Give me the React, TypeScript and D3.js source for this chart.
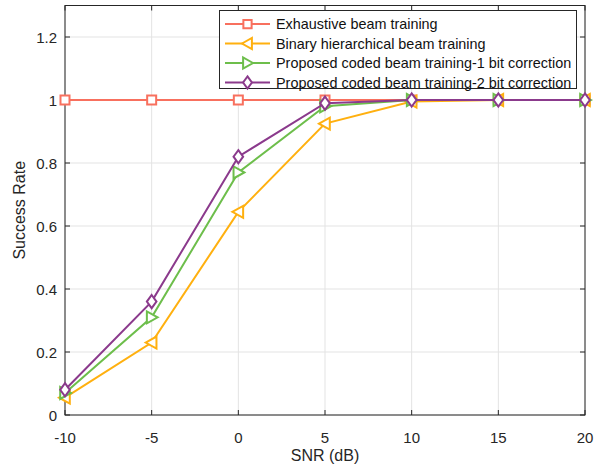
import React, { useEffect, useRef } from 'react';
import * as d3 from 'd3';

const snr = [-10, -5, 0, 5, 10, 15, 20];
const exhaustive = [1, 1, 1, 1, 1, 1, 1];
const binary = [0.055, 0.23, 0.645, 0.925, 0.995, 1, 1];
const coded1 = [0.07, 0.31, 0.77, 0.98, 1, 1, 1];
const coded2 = [0.08, 0.36, 0.82, 0.99, 1, 1, 1];
const xTicks = [-10, -5, 0, 5, 10, 15, 20];
const yTicks = [0, 0.2, 0.4, 0.6, 0.8, 1, 1.2];

const series = [
  { name: 'Exhaustive beam training', values: exhaustive, color: '#F8705E', marker: 'square' },
  { name: 'Binary hierarchical beam training', values: binary, color: '#FFB00F', marker: 'left' },
  { name: 'Proposed coded beam training-1 bit correction', values: coded1, color: '#6DBE4B', marker: 'right' },
  { name: 'Proposed coded beam training-2 bit correction', values: coded2, color: '#8B3A8C', marker: 'diamond' },
];

const markerPath = (type: string, s: number) => {
  if (type === 'square') return `M${-s * 0.75},${-s * 0.75}h${s * 1.5}v${s * 1.5}h${-s * 1.5}Z`;
  if (type === 'left') return `M${-s},0L${s * 0.8},${-s}L${s * 0.8},${s}Z`;
  if (type === 'right') return `M${s},0L${-s * 0.8},${-s}L${-s * 0.8},${s}Z`;
  return `M0,${-s * 1.1}L${s * 0.8},0L0,${s * 1.1}L${-s * 0.8},0Z`;
};

const App = () => {
  const ref = useRef<SVGSVGElement>(null);

  useEffect(() => {
    const svg = d3.select(ref.current);
    svg.selectAll('*').remove();
    const m = { left: 65, right: 585, top: 5.5, bottom: 415 };
    const x = d3.scaleLinear().domain([-10, 20]).range([m.left, m.right]);
    const y = d3.scaleLinear().domain([0, 1.3]).range([m.bottom, m.top]);
    const font = 'Liberation Sans, Arial, sans-serif';
    const txt = '#262626';

    svg.append('rect').attr('width', 600).attr('height', 465).attr('fill', 'white');

    const grid = svg.append('g').attr('stroke', '#e3e3e3').attr('stroke-width', 1);
    xTicks.forEach(t => grid.append('line').attr('x1', x(t)).attr('x2', x(t)).attr('y1', m.top).attr('y2', m.bottom));
    yTicks.forEach(t => grid.append('line').attr('x1', m.left).attr('x2', m.right).attr('y1', y(t)).attr('y2', y(t)));

    const ax = svg.append('g').attr('stroke', txt).attr('stroke-width', 1);
    ax.append('rect').attr('x', m.left).attr('y', m.top).attr('width', m.right - m.left).attr('height', m.bottom - m.top).attr('fill', 'none');
    xTicks.forEach(t => {
      ax.append('line').attr('x1', x(t)).attr('x2', x(t)).attr('y1', m.bottom).attr('y2', m.bottom - 5);
      ax.append('line').attr('x1', x(t)).attr('x2', x(t)).attr('y1', m.top).attr('y2', m.top + 5);
    });
    yTicks.forEach(t => {
      ax.append('line').attr('x1', m.left).attr('x2', m.left + 5).attr('y1', y(t)).attr('y2', y(t));
      ax.append('line').attr('x1', m.right).attr('x2', m.right - 5).attr('y1', y(t)).attr('y2', y(t));
    });

    svg.append('g').selectAll('text').data(xTicks).join('text')
      .attr('x', d => x(d)).attr('y', m.bottom + 28).attr('text-anchor', 'middle')
      .attr('font-family', font).attr('font-size', 15).attr('fill', txt).text(d => String(d));
    svg.append('g').selectAll('text').data(yTicks).join('text')
      .attr('x', m.left - 8).attr('y', d => y(d) + 5.5).attr('text-anchor', 'end')
      .attr('font-family', font).attr('font-size', 15).attr('fill', txt).text(d => String(d));

    svg.append('text').attr('x', (m.left + m.right) / 2).attr('y', 461).attr('text-anchor', 'middle')
      .attr('font-family', font).attr('font-size', 16).attr('fill', txt).text('SNR (dB)');
    svg.append('text').attr('transform', `translate(25,${(m.top + m.bottom) / 2}) rotate(-90)`).attr('text-anchor', 'middle')
      .attr('font-family', font).attr('font-size', 16).attr('fill', txt).text('Success Rate');

    const line = d3.line<number>().x((_, i) => x(snr[i])).y(d => y(d));
    series.forEach(s => {
      const g = svg.append('g');
      g.append('path').attr('d', line(s.values)).attr('fill', 'none').attr('stroke', s.color).attr('stroke-width', 2);
      g.selectAll('path.mk').data(s.values).join('path').attr('class', 'mk')
        .attr('transform', (d, i) => `translate(${x(snr[i])},${y(d)})`)
        .attr('d', markerPath(s.marker, 6)).attr('fill', 'white').attr('stroke', s.color).attr('stroke-width', 2);
    });

    const lg = svg.append('g');
    lg.append('rect').attr('x', 219.5).attr('y', 10.5).attr('width', 357).attr('height', 78)
      .attr('fill', 'white').attr('stroke', txt).attr('stroke-width', 1);
    series.forEach((s, i) => {
      const ly = 24 + i * 19.5;
      lg.append('line').attr('x1', 225).attr('x2', 270).attr('y1', ly).attr('y2', ly).attr('stroke', s.color).attr('stroke-width', 2);
      lg.append('path').attr('transform', `translate(247.5,${ly})`).attr('d', markerPath(s.marker, 5.5))
        .attr('fill', 'white').attr('stroke', s.color).attr('stroke-width', 2);
      lg.append('text').attr('x', 276).attr('y', ly + 5).attr('font-family', font).attr('font-size', 14.4)
        .attr('fill', '#111').text(s.name);
    });
  }, []);

  return <svg ref={ref} width={600} height={465} style={{ display: 'block', position: 'absolute', left: 0, top: 0 }} />;
};

export default App;
